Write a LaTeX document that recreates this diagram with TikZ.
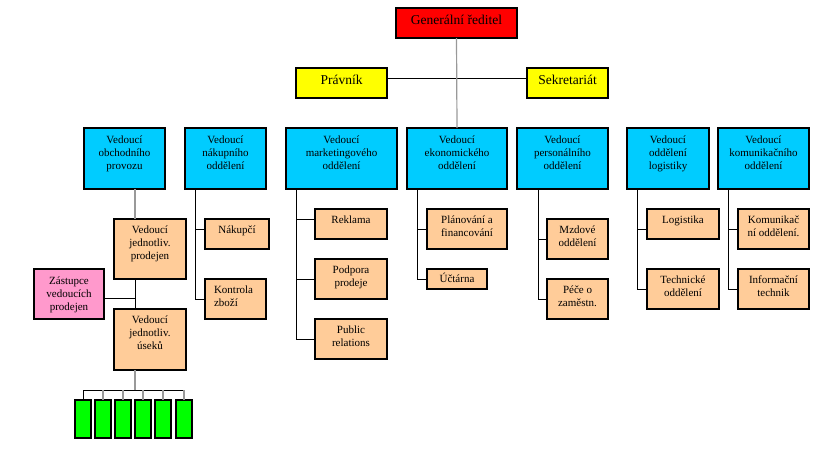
\documentclass[tikz,border=0pt]{standalone}
\usepackage{fontspec}
\setmainfont{Liberation Serif}
\definecolor{cred}{HTML}{FF0000}
\definecolor{cyel}{HTML}{FFFF00}
\definecolor{ccyan}{HTML}{00CCFF}
\definecolor{corange}{HTML}{FFCC99}
\definecolor{cpink}{HTML}{FF99CC}
\definecolor{cgreen}{HTML}{00FF00}
\definecolor{cline}{HTML}{999999}
\tikzset{
  box/.style={draw=black,line width=1.2pt,inner sep=0pt,outer sep=0pt,rectangle},
  conn/.style={draw=black,line width=0.9pt},
  grayconn/.style={draw=cline,line width=1.2pt}
}
\newcommand\bx[8]{%
  \node[box,fill=#6,minimum width={(#4-#2)*1pt},minimum height={(#5-#3)*1pt}] (#1) at ({(#2+#4)/2},{(#3+#5)/2})
  {\parbox[c][\dimexpr#5pt-#3pt\relax][t]{\dimexpr#4pt-#2pt\relax}{#7#8}};}
\newcommand\txa{\centering\fontsize{11}{13}\selectfont\rule{0pt}{15pt}}
\newcommand\txb{\centering\fontsize{11}{13}\selectfont\rule{0pt}{14pt}}
\newcommand\txtop{\centering\fontsize{13.5}{15}\selectfont\rule{0pt}{16.5pt}}
\begin{document}
\begin{tikzpicture}[x=1pt,y=-1pt]
\useasboundingbox (0,0) rectangle (821,450);
% top
\bx{gen}{396}{8}{517}{38}{cred}{\txtop}{Generální ředitel}
\bx{prav}{296}{68}{387}{98}{cyel}{\txtop}{Právník}
\bx{sekr}{527}{68}{608}{98}{cyel}{\txtop}{Sekretariát}
% departments
\bx{obch}{84}{128}{165}{189}{ccyan}{\txa}{Vedoucí\\obchodního\\provozu}
\bx{nak}{185}{128}{266}{189}{ccyan}{\txa}{Vedoucí\\nákupního\\oddělení}
\bx{mark}{286}{128}{397}{189}{ccyan}{\txa}{Vedoucí\\marketingového\\oddělení}
\bx{ekon}{407}{128}{507}{189}{ccyan}{\txa}{Vedoucí\\ekonomického\\oddělení}
\bx{pers}{517}{128}{608}{189}{ccyan}{\txa}{Vedoucí\\personálního\\oddělení}
\bx{logi}{627}{128}{709}{189}{ccyan}{\txa}{Vedoucí\\oddělení\\logistiky}
\bx{komu}{718}{128}{809}{189}{ccyan}{\txa}{Vedoucí\\komunikačního\\oddělení}
% obchodni provoz
\bx{prod}{114}{219}{186}{279}{corange}{\txb}{Vedoucí\\jednotliv.\\prodejen}
\bx{zast}{34}{269}{104}{319}{cpink}{\txa}{Zástupce\\vedoucích\\prodejen}
\bx{usek}{114}{309}{186}{370}{corange}{\txb}{Vedoucí\\jednotliv.\\úseků}
\bx{g1}{75}{400}{91}{438}{cgreen}{}{}
\bx{g2}{95}{400}{111}{438}{cgreen}{}{}
\bx{g3}{115}{400}{131}{438}{cgreen}{}{}
\bx{g4}{135}{400}{151}{438}{cgreen}{}{}
\bx{g5}{155}{400}{171}{438}{cgreen}{}{}
\bx{g6}{176}{400}{192}{438}{cgreen}{}{}
% nakup
\bx{nakupci}{205}{219}{269}{249}{corange}{\txb}{Nákupčí}
\bx{kontr}{205}{279}{266}{319}{corange}{\raggedright\leftskip=9pt\fontsize{11}{13}\selectfont\rule{0pt}{14pt}}{Kontrola\\zboží}
% marketing
\bx{rekl}{315}{209}{387}{239}{corange}{\txb}{Reklama}
\bx{podp}{315}{259}{387}{299}{corange}{\txb}{Podpora\\prodeje}
\bx{publ}{315}{319}{387}{359}{corange}{\txb}{Public\\relations}
% ekonom
\bx{plan}{427}{209}{507}{249}{corange}{\txb}{Plánování a\\financování}
\bx{uct}{427}{269}{487}{289}{corange}{\centering\fontsize{11}{13}\selectfont\rule{0pt}{13pt}}{Účtárna}
% personal
\bx{mzd}{547}{219}{608}{259}{corange}{\txb}{Mzdové\\oddělení}
\bx{pece}{547}{279}{608}{319}{corange}{\txb}{Péče o\\zaměstn.}
% logistika
\bx{logk}{647}{209}{719}{239}{corange}{\txb}{Logistika}
\bx{tech}{647}{269}{719}{309}{corange}{\txb}{Technické\\oddělení}
% komunikace
\bx{kodd}{738}{209}{809}{249}{corange}{\txb}{Komunikač\\ní oddělení.}
\bx{info}{738}{269}{809}{309}{corange}{\txb}{Informační\\technik}
% connectors top
\draw[conn] ([yshift=5pt]prav.east) -- ([yshift=5pt]sekr.west);
\draw[grayconn] (gen.south) -- (ekon.north);
% obchodni provoz
\coordinate (sp) at ([xshift=21pt]usek.south west);
\coordinate (bus) at ([yshift=10pt]g1.north);
\draw[grayconn] (obch.south -| sp) -- (prod.north -| sp);
\draw[conn] (prod.south -| sp) -- (usek.north -| sp);
\draw[conn] ([yshift=-4pt]zast.east) -- ([yshift=-4pt]zast.east -| sp);
\draw[grayconn] (usek.south -| sp) -- (bus -| sp);
\draw[conn] (g1.north) -- (bus) -- (bus -| g6.north);
\foreach \g in {g2,g3,g4,g5,g6}{\draw[grayconn] (\g.north) -- (\g.north |- bus);}
% nakup
\draw[conn] ([xshift=10pt]nak.south west) |- ([yshift=5pt]nakupci.west);
\draw[conn] ([xshift=10pt]nak.south west) |- (kontr.west);
% marketing
\draw[conn] ([xshift=10pt]mark.south west) |- ([yshift=5pt]rekl.west);
\draw[conn] ([xshift=10pt]mark.south west) |- (podp.west);
\draw[conn] ([xshift=10pt]mark.south west) |- (publ.west);
% ekonom
\draw[conn] ([xshift=10pt]ekon.south west) |- (plan.west);
\draw[conn] ([xshift=10pt]ekon.south west) |- (uct.west);
% personal
\draw[conn] ([xshift=21pt]pers.south west) |- (mzd.west);
\draw[conn] ([xshift=21pt]pers.south west) |- (pece.west);
% logistika
\draw[conn] ([xshift=10pt]logi.south west) |- ([yshift=-5pt]logk.west);
\draw[conn] ([xshift=10pt]logi.south west) |- (tech.west);
% komunikace
\draw[conn] ([xshift=10pt]komu.south west) |- (kodd.west);
\draw[conn] ([xshift=10pt]komu.south west) |- (info.west);
\end{tikzpicture}
\end{document}
